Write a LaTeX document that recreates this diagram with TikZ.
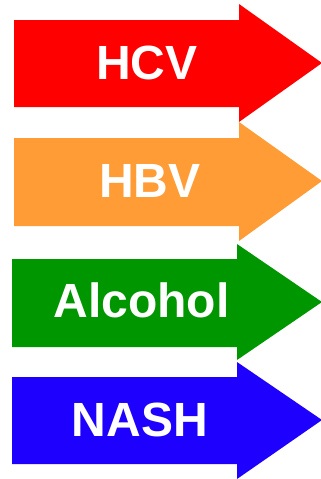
\documentclass[tikz,border=0pt]{standalone}
\usepackage{fontspec}
\setmainfont{Liberation Sans}
\definecolor{cRed}{RGB}{255,0,0}
\definecolor{cOrange}{RGB}{255,156,54}
\definecolor{cGreen}{RGB}{0,150,0}
\definecolor{cBlue}{RGB}{30,0,255}
\tikzset{
  lbl/.style={text=white,font=\fontsize{48}{48}\selectfont\bfseries,inner sep=0pt,anchor=center},
}
\newcommand{\bigarrow}[6]{% color, x0, xh, top body, bottom body, head top, head bottom, tip
}
\begin{document}
\begin{tikzpicture}[x=1pt,y=-1pt]
\useasboundingbox (0,0) rectangle (321,479);
\fill[cRed] (14,20) -- (239,20) -- (239,4) -- (322,63) -- (239,122) -- (239,107) -- (14,107) -- cycle;
\fill[cOrange] (14,138) -- (239,138) -- (239,122) -- (322,181) -- (239,241) -- (239,226) -- (14,226) -- cycle;
\fill[cGreen] (12,259) -- (237,259) -- (237,244) -- (322,302) -- (237,360) -- (237,347) -- (12,347) -- cycle;
\fill[cBlue] (12,377) -- (237,377) -- (237,362) -- (322,420) -- (237,479) -- (237,464) -- (12,464) -- cycle;
\node[lbl] (hcv) at (147,63) {HCV};
\node[lbl] (hbv) at (150,181) {HBV};
\node[lbl] (alc) at (141.5,300) {Alcohol};
\node[lbl] (nash) at (140,420) {NASH};
\end{tikzpicture}
\end{document}
